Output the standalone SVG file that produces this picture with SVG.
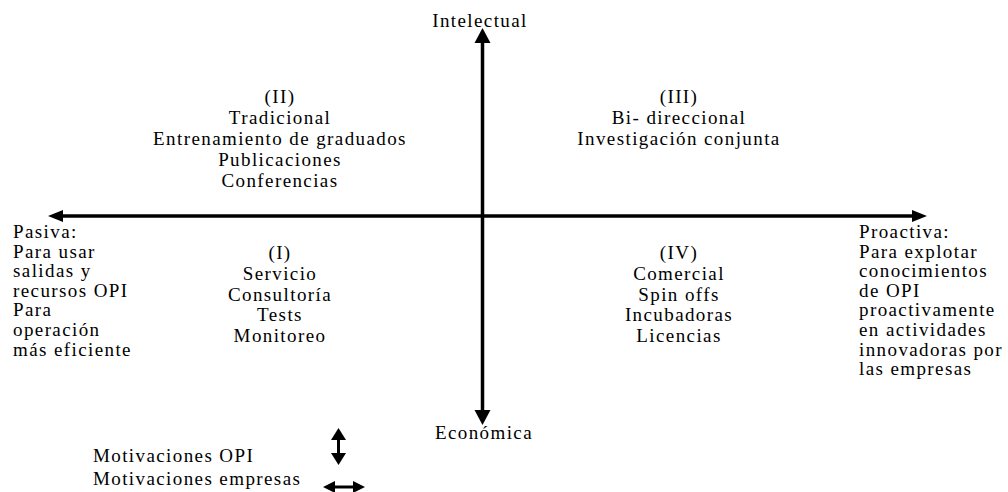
<svg xmlns="http://www.w3.org/2000/svg" width="1008" height="492" viewBox="0 0 1008 492">
<style>
  text { font-family: "Liberation Serif", "Times New Roman", serif; font-size: 19px; fill: #000; letter-spacing: 1.4px; }
  .c { text-anchor: middle; }
  .ax { stroke: #000; stroke-width: 3.5; fill: none; }
  .lg { stroke: #000; stroke-width: 3; fill: none; }
  .ah { fill: #000; stroke: none; }
</style>
<rect width="1008" height="492" fill="#fff"/>
<g id="connectors">
  <line class="ax" x1="482.5" y1="40" x2="482.5" y2="412"/>
  <path class="ah" d="M482.5,28 L474.5,43 L490.5,43 Z"/>
  <path class="ah" d="M482.5,425 L474.5,410 L490.5,410 Z"/>
  <line class="ax" x1="60" y1="216" x2="914" y2="216"/>
  <path class="ah" d="M48,216 L63,210 L63,222 Z"/>
  <path class="ah" d="M927,216 L912,210 L912,222 Z"/>
</g>
<g id="label-intelectual"><text class="c" x="480" y="27">Intelectual</text></g>
<g id="label-economica"><text class="c" x="484" y="439">Económica</text></g>
<g id="quadrant-II">
  <text class="c" x="280" y="103">(II)</text>
  <text class="c" x="280" y="124">Tradicional</text>
  <text class="c" x="280" y="145">Entrenamiento de graduados</text>
  <text class="c" x="280" y="166">Publicaciones</text>
  <text class="c" x="280" y="187">Conferencias</text>
</g>
<g id="quadrant-III">
  <text class="c" x="679" y="103">(III)</text>
  <text class="c" x="679" y="124">Bi- direccional</text>
  <text class="c" x="679" y="145">Investigación conjunta</text>
</g>
<g id="quadrant-I">
  <text class="c" x="280" y="259">(I)</text>
  <text class="c" x="280" y="280">Servicio</text>
  <text class="c" x="280" y="301">Consultoría</text>
  <text class="c" x="280" y="321">Tests</text>
  <text class="c" x="280" y="342">Monitoreo</text>
</g>
<g id="quadrant-IV">
  <text class="c" x="679" y="259">(IV)</text>
  <text class="c" x="679" y="280">Comercial</text>
  <text class="c" x="679" y="301">Spin offs</text>
  <text class="c" x="679" y="321">Incubadoras</text>
  <text class="c" x="679" y="342">Licencias</text>
</g>
<g id="label-pasiva">
  <text x="13" y="238">Pasiva:</text>
  <text x="13" y="257.6">Para usar</text>
  <text x="13" y="277.2">salidas y</text>
  <text x="13" y="296.8">recursos OPI</text>
  <text x="13" y="316.4">Para</text>
  <text x="13" y="336">operación</text>
  <text x="13" y="355.6">más eficiente</text>
</g>
<g id="label-proactiva">
  <text x="859" y="238">Proactiva:</text>
  <text x="859" y="257.6">Para explotar</text>
  <text x="859" y="277.2">conocimientos</text>
  <text x="859" y="296.8">de OPI</text>
  <text x="859" y="316.4">proactivamente</text>
  <text x="859" y="336">en actividades</text>
  <text x="859" y="355.6">innovadoras por</text>
  <text x="859" y="375.2">las empresas</text>
</g>
<g id="legend">
  <text x="93" y="462">Motivaciones OPI</text>
  <text x="93" y="485">Motivaciones empresas</text>
  <line class="lg" x1="338.5" y1="438" x2="338.5" y2="455"/>
  <path class="ah" d="M338.5,428 L331,440 L346,440 Z"/>
  <path class="ah" d="M338.5,465 L331,453 L346,453 Z"/>
  <line class="lg" x1="333" y1="487" x2="355" y2="487"/>
  <path class="ah" d="M323,487 L335,481 L335,493 Z"/>
  <path class="ah" d="M365,487 L353,481 L353,493 Z"/>
</g>
</svg>
